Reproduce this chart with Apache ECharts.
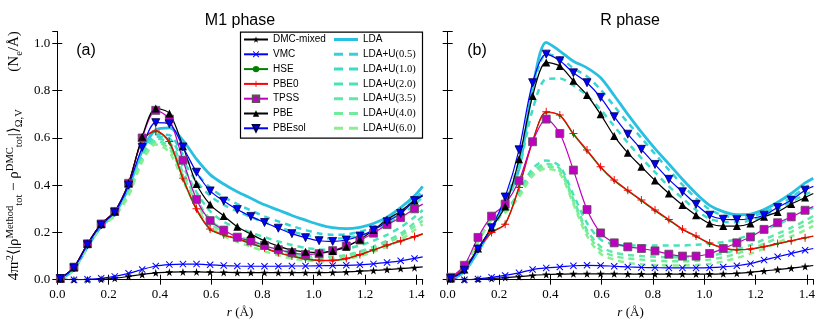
<!DOCTYPE html>
<html><head><meta charset="utf-8">
<script src="https://cdn.jsdelivr.net/npm/echarts@6/dist/echarts.min.js"></script>
<style>html,body{margin:0;padding:0;background:#fff}#c{width:830px;height:332px}</style>
</head><body><div id="c"></div>
<script>
// r grid (Å) of the plotted samples; last point is the line end (no marker)
const R = [0.012,0.065,0.118,0.171,0.224,0.278,0.331,0.384,0.437,0.490,0.543,0.596,0.649,0.702,0.755,0.808,0.862,0.915,0.968,1.021,1.074,1.127,1.180,1.233,1.286,1.339,1.393,1.425];
const xTicks = ['0.0','0.2','0.4','0.6','0.8','1.0','1.2','1.4'];
const yTicks = ['0.0','0.2','0.4','0.6','0.8','1.0'];
const panelTitles = ['M1 phase','R phase'];
const panelTags = ['(a)','(b)'];

// ---- M1 phase ----
const DMC_a   = [0.003,0.0,0.0,0.002,0.006,0.014,0.022,0.029,0.032,0.033,0.033,0.032,0.031,0.030,0.030,0.030,0.030,0.030,0.030,0.030,0.031,0.033,0.036,0.039,0.043,0.047,0.051,0.054];
const VMC_a   = [0.003,0.0,0.002,0.006,0.014,0.027,0.043,0.058,0.064,0.066,0.066,0.063,0.060,0.058,0.057,0.057,0.057,0.058,0.058,0.059,0.060,0.061,0.063,0.067,0.073,0.080,0.090,0.097];
const HSE_a   = [0.005,0.053,0.152,0.236,0.289,0.41,0.588,0.628,0.58,0.425,0.295,0.212,0.188,0.172,0.153,0.133,0.113,0.099,0.087,0.081,0.081,0.089,0.105,0.125,0.145,0.163,0.181,0.193];
const PBE0_a  = [0.005,0.053,0.152,0.236,0.289,0.41,0.59,0.63,0.585,0.43,0.30,0.215,0.19,0.175,0.155,0.135,0.115,0.10,0.088,0.082,0.082,0.09,0.107,0.127,0.147,0.165,0.183,0.195];
const TPSS_a  = [0.005,0.053,0.152,0.236,0.289,0.408,0.60,0.717,0.68,0.506,0.34,0.25,0.21,0.18,0.164,0.145,0.127,0.115,0.107,0.11,0.123,0.143,0.168,0.197,0.233,0.263,0.30,0.32];
const PBE_a   = [0.005,0.053,0.152,0.236,0.289,0.408,0.605,0.725,0.704,0.565,0.405,0.318,0.27,0.224,0.193,0.165,0.142,0.125,0.118,0.115,0.122,0.139,0.17,0.21,0.255,0.29,0.335,0.355];
const PBEsol_a= [0.005,0.05,0.148,0.232,0.285,0.40,0.56,0.665,0.66,0.562,0.455,0.376,0.333,0.297,0.268,0.242,0.218,0.195,0.178,0.165,0.162,0.168,0.185,0.21,0.245,0.28,0.335,0.36];
const LDA_a   = [0.0,0.045,0.14,0.225,0.28,0.39,0.545,0.635,0.643,0.59,0.51,0.445,0.405,0.372,0.345,0.317,0.295,0.272,0.252,0.233,0.22,0.216,0.222,0.238,0.265,0.305,0.355,0.395];
const U05_a   = [0.0,0.045,0.14,0.225,0.28,0.38,0.53,0.615,0.612,0.53,0.45,0.39,0.35,0.32,0.293,0.268,0.247,0.227,0.21,0.196,0.19,0.192,0.203,0.223,0.252,0.29,0.34,0.375];
const U10_a   = [0.0,0.045,0.14,0.225,0.28,0.375,0.525,0.605,0.598,0.505,0.415,0.355,0.317,0.29,0.265,0.243,0.223,0.204,0.19,0.179,0.174,0.177,0.188,0.207,0.235,0.27,0.318,0.35];
const U20_a   = [0.0,0.045,0.14,0.225,0.277,0.37,0.52,0.597,0.58,0.48,0.37,0.29,0.245,0.22,0.2,0.18,0.162,0.147,0.135,0.128,0.127,0.132,0.145,0.165,0.19,0.222,0.265,0.295];
const U35_a   = [0.0,0.045,0.14,0.225,0.275,0.365,0.51,0.587,0.565,0.455,0.34,0.255,0.21,0.185,0.165,0.145,0.128,0.113,0.102,0.097,0.098,0.105,0.12,0.14,0.165,0.195,0.24,0.268];
const U40_a   = [0.0,0.045,0.14,0.225,0.273,0.36,0.505,0.58,0.555,0.44,0.325,0.24,0.2,0.175,0.155,0.135,0.118,0.103,0.093,0.088,0.09,0.098,0.113,0.132,0.155,0.185,0.225,0.25];
const U60_a   = [0.0,0.045,0.14,0.225,0.27,0.355,0.5,0.572,0.54,0.42,0.305,0.225,0.185,0.16,0.14,0.12,0.103,0.09,0.082,0.078,0.08,0.088,0.1,0.118,0.14,0.17,0.21,0.235];

// ---- R phase ----
const DMC_b   = [0.003,0.0,0.002,0.005,0.009,0.013,0.018,0.022,0.024,0.025,0.025,0.025,0.025,0.024,0.024,0.024,0.024,0.024,0.024,0.024,0.025,0.027,0.031,0.037,0.043,0.049,0.056,0.06];
const VMC_b   = [0.003,0.0,0.003,0.01,0.018,0.029,0.043,0.05,0.054,0.059,0.061,0.06,0.057,0.054,0.052,0.051,0.05,0.05,0.05,0.051,0.054,0.059,0.068,0.083,0.097,0.111,0.125,0.132];
const HSE_b   = [0.005,0.05,0.13,0.2,0.237,0.395,0.588,0.708,0.695,0.615,0.545,0.475,0.419,0.376,0.334,0.292,0.252,0.213,0.183,0.153,0.134,0.126,0.129,0.139,0.152,0.164,0.177,0.184];
const PBE0_b  = [0.005,0.05,0.13,0.20,0.235,0.39,0.584,0.711,0.697,0.619,0.549,0.478,0.422,0.379,0.337,0.295,0.255,0.215,0.185,0.155,0.135,0.127,0.13,0.14,0.153,0.165,0.178,0.185];
const TPSS_b  = [0.01,0.061,0.179,0.269,0.32,0.419,0.584,0.68,0.619,0.464,0.297,0.198,0.156,0.139,0.132,0.122,0.108,0.1,0.1,0.111,0.132,0.156,0.181,0.213,0.241,0.266,0.294,0.31];
const PBE_b   = [0.005,0.043,0.132,0.221,0.31,0.51,0.778,0.92,0.905,0.842,0.782,0.70,0.608,0.537,0.478,0.42,0.365,0.316,0.273,0.238,0.227,0.227,0.238,0.266,0.287,0.32,0.348,0.365];
const PBEsol_b= [0.005,0.04,0.13,0.22,0.35,0.55,0.834,0.955,0.927,0.876,0.834,0.772,0.69,0.616,0.552,0.488,0.425,0.372,0.319,0.273,0.256,0.254,0.259,0.273,0.306,0.337,0.379,0.395];
const LDA_b   = [0.0,0.035,0.12,0.215,0.33,0.47,0.81,1.005,0.968,0.925,0.897,0.855,0.78,0.70,0.625,0.555,0.49,0.425,0.365,0.315,0.288,0.275,0.278,0.297,0.328,0.365,0.41,0.43];
const U05_b   = [0.0,0.035,0.12,0.215,0.33,0.5,0.8,0.955,0.94,0.895,0.86,0.805,0.735,0.665,0.6,0.532,0.465,0.402,0.345,0.297,0.272,0.263,0.268,0.285,0.313,0.348,0.39,0.41];
const U10_b   = [0.0,0.035,0.12,0.21,0.31,0.47,0.72,0.85,0.852,0.822,0.78,0.72,0.65,0.58,0.515,0.455,0.395,0.345,0.295,0.258,0.245,0.243,0.25,0.27,0.297,0.33,0.36,0.375];
const U20_b   = [0.0,0.055,0.16,0.255,0.29,0.37,0.47,0.505,0.48,0.36,0.24,0.17,0.15,0.145,0.145,0.145,0.145,0.145,0.148,0.152,0.16,0.172,0.19,0.21,0.235,0.26,0.29,0.305];
const U35_b   = [0.0,0.055,0.16,0.255,0.288,0.36,0.455,0.49,0.47,0.34,0.21,0.14,0.115,0.105,0.1,0.097,0.095,0.095,0.097,0.102,0.112,0.127,0.147,0.17,0.195,0.22,0.25,0.27];
const U40_b   = [0.0,0.055,0.16,0.255,0.285,0.355,0.45,0.48,0.46,0.33,0.2,0.125,0.1,0.09,0.085,0.08,0.078,0.078,0.08,0.085,0.095,0.11,0.13,0.152,0.177,0.203,0.232,0.25];
const U60_b   = [0.0,0.055,0.16,0.255,0.283,0.35,0.44,0.47,0.45,0.32,0.185,0.11,0.085,0.072,0.065,0.062,0.06,0.06,0.062,0.067,0.077,0.092,0.11,0.132,0.157,0.183,0.21,0.228];

const STAR = 'path://M50,0 L61,35 L98,35 L68,57 L79,91 L50,70 L21,91 L32,57 L2,35 L39,35 Z';
const XMARK = 'path://M1,0 L5,4 L9,0 L10,1 L6,5 L10,9 L9,10 L5,6 L1,10 L0,9 L4,5 L0,1 Z';
const PLUS = 'path://M4.4,0 H5.6 V4.4 H10 V5.6 H5.6 V10 H4.4 V5.6 H0 V4.4 H4.4 Z';
const ICON_SOLID = 'path://M0,0 H24 V3 H0 Z';
const ICON_DASH = 'path://M0,0 H9 V3 H0 Z M15,0 H24 V3 H15 Z';

const styles = {
  'DMC-mixed': {color:'#000000', symbol:STAR, size:8, w:1.2},
  'VMC':       {color:'#0000ff', symbol:XMARK, size:7, w:1.2},
  'HSE':       {color:'#008000', symbol:'circle', size:3, w:1.2},
  'PBE0':      {color:'#ff0000', symbol:PLUS, size:8, w:1.2},
  'TPSS':      {color:'#bf00bf', symbol:'rect', size:8, w:1.2, border:'#555555'},
  'PBE':       {color:'#000000', symbol:'triangle', size:8, w:1.2},
  'PBEsol':    {color:'#0000ff', symbol:'triangle', rot:180, size:8, w:1.2, border:'#000044'},
  'LDA':       {color:'#28c0e0', w:2.8},
  'LDA+U(0.5)':{color:'#36d1d8', w:2.5, dash:true},
  'LDA+U(1.0)':{color:'#3ddcc8', w:2.5, dash:true},
  'LDA+U(2.0)':{color:'#48e4b8', w:2.5, dash:true},
  'LDA+U(3.5)':{color:'#5ce9aa', w:2.5, dash:true},
  'LDA+U(4.0)':{color:'#70ec9c', w:2.5, dash:true},
  'LDA+U(6.0)':{color:'#8aef90', w:2.5, dash:true}
};
const namesLeft = ['DMC-mixed','VMC','HSE','PBE0','TPSS','PBE','PBEsol'];
const namesRight = ['LDA','LDA+U(0.5)','LDA+U(1.0)','LDA+U(2.0)','LDA+U(3.5)','LDA+U(4.0)','LDA+U(6.0)'];
const panelA = {'DMC-mixed':DMC_a,'VMC':VMC_a,'HSE':HSE_a,'PBE0':PBE0_a,'TPSS':TPSS_a,'PBE':PBE_a,'PBEsol':PBEsol_a,
  'LDA':LDA_a,'LDA+U(0.5)':U05_a,'LDA+U(1.0)':U10_a,'LDA+U(2.0)':U20_a,'LDA+U(3.5)':U35_a,'LDA+U(4.0)':U40_a,'LDA+U(6.0)':U60_a};
const panelB = {'DMC-mixed':DMC_b,'VMC':VMC_b,'HSE':HSE_b,'PBE0':PBE0_b,'TPSS':TPSS_b,'PBE':PBE_b,'PBEsol':PBEsol_b,
  'LDA':LDA_b,'LDA+U(0.5)':U05_b,'LDA+U(1.0)':U10_b,'LDA+U(2.0)':U20_b,'LDA+U(3.5)':U35_b,'LDA+U(4.0)':U40_b,'LDA+U(6.0)':U60_b};

function mkSeries(name, vals, p) {
  const s = styles[name];
  const data = R.map((r,i) => i === R.length-1 ? {value:[r, vals[i]], symbol:'none'} : [r, vals[i]]);
  return {
    name, type:'line', xAxisIndex:p*2, yAxisIndex:p*2, data, smooth:0.3,
    lineStyle:{color:s.color, width:s.w, type: s.dash ? [6,5] : 'solid'},
    itemStyle:{color:s.color, borderColor:s.border || s.color, borderWidth: s.border ? 0.8 : 0},
    symbol: s.symbol || 'none', symbolSize: s.size || 0, symbolRotate: s.rot || 0,
    showSymbol: !!s.symbol, z: s.symbol ? 3 : 2, emphasis:{disabled:true}, clip:true
  };
}
const order = [...namesRight, ...namesLeft];
const series = [];
[panelA, panelB].forEach((P, p) => order.forEach(n => series.push(mkSeries(n, P[n], p))));

const serif = 'Liberation Serif';
const sans = 'Liberation Sans';
const grids = [
  {left:57.3, top:31.7, width:365.4, height:248},
  {left:447.7, top:31.7, width:365.6, height:248}
];
const xAxes = [], yAxes = [];
grids.forEach((g, p) => {
  const base = {type:'value', gridIndex:p, min:0, max:1.425, interval:0.2,
    axisLine:{lineStyle:{color:'#000', width:1}}, axisTick:{inside:true, length:5, lineStyle:{color:'#000'}},
    splitLine:{show:false}};
  xAxes.push(Object.assign({}, base, {position:'bottom',
    axisLabel:{show:true, showMaxLabel:false, margin:8, color:'#000', fontFamily:serif, fontSize:13,
      formatter: v => { const i = Math.round(v/0.2); return Math.abs(v - i*0.2) < 1e-6 && i < xTicks.length ? xTicks[i] : ''; }},
    name:'{i|r} {n|(Å)}', nameLocation:'middle', nameGap:24,
    nameTextStyle:{rich:{i:{fontFamily:serif, fontStyle:'italic', fontSize:13, color:'#000'}, n:{fontFamily:serif, fontSize:13, color:'#000'}}}}));
  xAxes.push(Object.assign({}, base, {position:'top', axisLabel:{show:false}}));
  const ybase = {type:'value', gridIndex:p, min:0, max:1.05, interval:0.2,
    axisLine:{show:true, lineStyle:{color:'#000', width:1}}, axisTick:{inside:true, length:5, lineStyle:{color:'#000'}},
    splitLine:{show:false}};
  const yl = Object.assign({}, ybase, {position:'left',
    axisLabel:{show: p===0, showMaxLabel:false, margin:7, color:'#000', fontFamily:serif, fontSize:13,
      formatter: v => { const i = Math.round(v/0.2); return Math.abs(v - i*0.2) < 1e-6 && i < yTicks.length ? yTicks[i] : ''; }}});
  if (p === 0) {
    yl.name = '{t|4πr}{sp|2}{t|⟨|ρ}{sp|Method}{sb|tot}{t| − ρ}{sp|DMC}{sb|tot}{t||⟩}{sb|Ω,V}{t|          (N}{sb|e}{t|/Å)}';
    yl.nameLocation = 'middle'; yl.nameGap = 33; yl.nameRotate = 90;
    yl.nameTextStyle = {rich:{
      t:{fontFamily:serif, fontSize:15, color:'#000', lineHeight:20, verticalAlign:'middle'},
      sp:{fontFamily:serif, fontSize:10.5, color:'#000', lineHeight:20, verticalAlign:'top'},
      sb:{fontFamily:serif, fontSize:10.5, color:'#000', lineHeight:20, verticalAlign:'bottom'}}};
  }
  yAxes.push(yl);
  yAxes.push(Object.assign({}, ybase, {position:'right', axisLabel:{show:false}}));
});

const legendCommon = {orient:'vertical', itemWidth:24, itemHeight:10, itemGap:3.8, padding:0, z:10,
  textStyle:{fontFamily:sans, fontSize:10, color:'#000', lineHeight:11,
    rich:{s:{fontFamily:serif, fontSize:10.5, color:'#000', lineHeight:11}}},
  selectedMode:false};
const legends = [
  Object.assign({}, legendCommon, {left:243, top:34, itemHeight:8, data:namesLeft}),
  Object.assign({}, legendCommon, {left:334, top:34, itemHeight:3,
    data:namesRight.map(n => ({name:n, icon: styles[n].dash ? ICON_DASH : ICON_SOLID})),
    formatter: n => n.replace(/\((.*)\)/, '{s|($1)}')})
];

const graphics = [
  {type:'rect', shape:{x:240.5, y:32.2, width:182, height:106}, style:{fill:'#fff', stroke:'#000', lineWidth:1.2}, z:5},
  {type:'text', x:240, y:21, style:{text:panelTitles[0], font:'16px "Liberation Sans"', fill:'#000', textAlign:'center', textVerticalAlign:'middle'}},
  {type:'text', x:630, y:21, style:{text:panelTitles[1], font:'16px "Liberation Sans"', fill:'#000', textAlign:'center', textVerticalAlign:'middle'}},
  {type:'text', x:86, y:51, style:{text:panelTags[0], font:'16px "Liberation Sans"', fill:'#000', textAlign:'center', textVerticalAlign:'middle'}, z:6},
  {type:'text', x:477, y:51, style:{text:panelTags[1], font:'16px "Liberation Sans"', fill:'#000', textAlign:'center', textVerticalAlign:'middle'}, z:6}
];

const chart = echarts.init(document.getElementById('c'), null, {renderer:'canvas'});
chart.setOption({
  animation:false, backgroundColor:'#fff',
  grid:grids, xAxis:xAxes, yAxis:yAxes, series, legend:legends, graphic:{elements:graphics}
});
</script></body></html>
